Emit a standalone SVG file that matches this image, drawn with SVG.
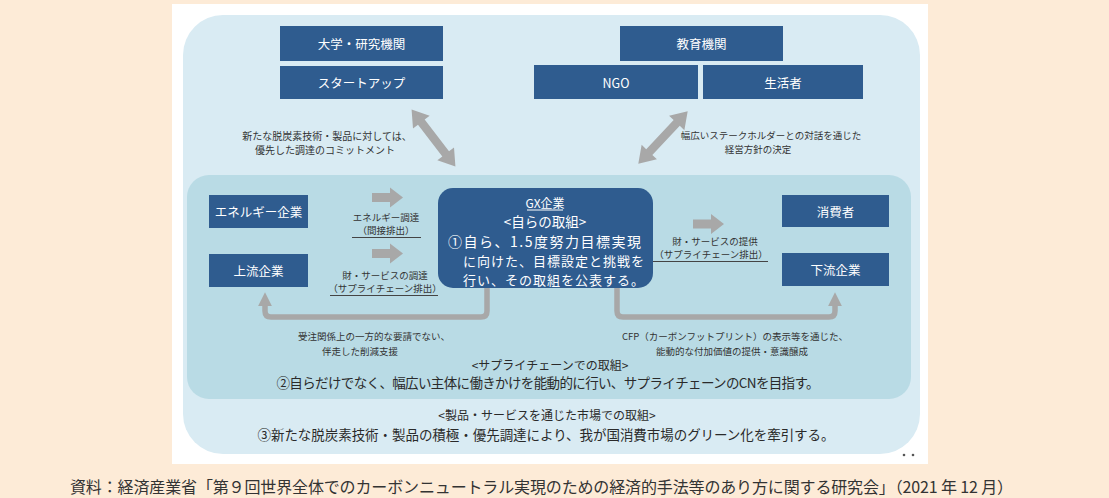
<svg xmlns="http://www.w3.org/2000/svg" width="1109" height="498" viewBox="0 0 1109 498">
<style>
text{font-family:"Noto Sans CJK JP","Noto Sans",sans-serif;dominant-baseline:central}
.box{fill:#2f5c8f}
.bt{fill:#fff;font-size:12.5px;text-anchor:middle}
.gl{fill:#fff;font-size:13px}
.lb{fill:#333;font-size:9.5px;text-anchor:middle}
.ul{stroke:#444;stroke-width:1}
.ga{fill:#a8a8a8}
.fb{fill:none;stroke:#a8a8a8;stroke-width:5.5;marker-end:url(#ah)}
.bx{fill:#2a2a2a;text-anchor:middle}
</style>
<defs>
<path id="blk" d="M0,-4.5H18V-10L31,0L18,10V4.5H0Z"/>
<path id="dbl" d="M-36,0L-20,-10.5V-4.2H20V-10.5L36,0L20,10.5V4.2H-20V10.5Z"/>
<marker id="ah" viewBox="0 0 10 10" refX="3" refY="5" markerWidth="14" markerHeight="14" markerUnits="userSpaceOnUse" orient="auto">
<path d="M0,0L10,5L0,10Z" fill="#a8a8a8"/>
</marker>
</defs>
<rect width="1109" height="498" fill="#fdebd7"/>
<rect x="172" y="4" width="756" height="460" fill="#fff"/>
<rect x="183" y="15" width="737" height="439" rx="40" fill="#d9ebf3"/>
<rect x="187" y="175" width="724" height="224" rx="22" fill="#b9dbe5"/>

<g id="connectors">
<use href="#dbl" class="ga" transform="translate(433.5,138) rotate(52.5)"/>
<use href="#dbl" class="ga" transform="translate(663,137.5) rotate(133.3)"/>
<use href="#blk" class="ga" x="372" y="197.5"/>
<use href="#blk" class="ga" x="372" y="253.5"/>
<use href="#blk" class="ga" x="693" y="224"/>
<path class="fb" d="M487,288V311Q487,317 481,317H271Q265,317 265,311V302"/>
<path class="fb" d="M617,288V311Q617,317 623,317H829Q835,317 835,311V302"/>
<line class="ul" x1="352" y1="237.5" x2="421" y2="237.5"/>
<line class="ul" x1="330" y1="295.5" x2="438" y2="295.5"/>
<line class="ul" x1="653" y1="261.5" x2="768" y2="261.5"/>
</g>

<g id="n-daigaku"><rect class="box" x="280" y="26" width="163" height="35"/><text class="bt" x="361.5" y="43.5">大学・研究機関</text></g>
<g id="n-startup"><rect class="box" x="280" y="66" width="163" height="33"/><text class="bt" x="361.5" y="82.5">スタートアップ</text></g>
<g id="n-kyoiku"><rect class="box" x="620" y="26" width="163" height="35"/><text class="bt" x="701.5" y="43.5">教育機関</text></g>
<g id="n-ngo"><rect class="box" x="534" y="65" width="164" height="34"/><text class="bt" x="616" y="82">NGO</text></g>
<g id="n-seikatsu"><rect class="box" x="703" y="65" width="160" height="34"/><text class="bt" x="783" y="82">生活者</text></g>
<g id="n-energy"><rect class="box" x="209" y="195" width="99" height="33"/><text class="bt" x="258.5" y="211.5">エネルギー企業</text></g>
<g id="n-joryu"><rect class="box" x="209" y="254" width="99" height="33"/><text class="bt" x="258.5" y="270.5">上流企業</text></g>
<g id="n-shohisha"><rect class="box" x="782" y="195" width="107" height="32"/><text class="bt" x="835.5" y="211">消費者</text></g>
<g id="n-karyu"><rect class="box" x="782" y="253" width="107" height="33"/><text class="bt" x="835.5" y="269.5">下流企業</text></g>
<g id="n-gx">
<rect class="box" x="438" y="188" width="215" height="100" rx="15"/>
<text class="bt" x="545" y="202" style="font-size:12px">GX企業</text>
<line x1="527" y1="210" x2="563" y2="210" stroke="#fff" stroke-width="1"/>
<text class="bt" x="545" y="221" style="font-size:13.5px">&lt;自らの取組&gt;</text>
<text class="gl" x="448" y="241" style="font-size:14px" textLength="193" lengthAdjust="spacing">①自ら、1.5度努力目標実現</text>
<text class="gl" x="463" y="260.5" textLength="181" lengthAdjust="spacing">に向けた、目標設定と挑戦を</text>
<text class="gl" x="463" y="279.5" textLength="181" lengthAdjust="spacing">行い、その取組を公表する。</text>
</g>

<g id="labels">
<text class="lb" x="327" y="135" style="font-size:10px">新たな脱炭素技術・製品に対しては、</text>
<text class="lb" x="325" y="149" style="font-size:10px">優先した調達のコミットメント</text>
<text class="lb" x="771" y="135">幅広いステークホルダーとの対話を通じた</text>
<text class="lb" x="758" y="149">経営方針の決定</text>
<text class="lb" x="386" y="217">エネルギー調達</text>
<text class="lb" x="386" y="230">（間接排出）</text>
<text class="lb" x="385" y="275">財・サービスの調達</text>
<text class="lb" x="385" y="288">（サプライチェーン排出）</text>
<text class="lb" x="715" y="241">財・サービスの提供</text>
<text class="lb" x="711" y="254">（サプライチェーン排出）</text>
<text class="lb" x="374" y="336">受注関係上の一方的な要請でない、</text>
<text class="lb" x="360" y="351">伴走した削減支援</text>
<text class="lb" x="735" y="336">CFP（カーボンフットプリント）の表示等を通じた、</text>
<text class="lb" x="732" y="351">能動的な付加価値の提供・意識醸成</text>
<text class="bx" x="550" y="364" font-size="12">&lt;サプライチェーンでの取組&gt;</text>
<text class="bx" x="548" y="382" font-size="13.5" textLength="543" lengthAdjust="spacing">②自らだけでなく、幅広い主体に働きかけを能動的に行い、サプライチェーンのCNを目指す。</text>
<text class="bx" x="547" y="414" font-size="12">&lt;製品・サービスを通じた市場での取組&gt;</text>
<text class="bx" x="546" y="434" font-size="13.5" textLength="577" lengthAdjust="spacing">③新たな脱炭素技術・製品の積極・優先調達により、我が国消費市場のグリーン化を牽引する。</text>
</g>
<circle cx="904" cy="455" r="1.3" fill="#555"/>
<circle cx="913" cy="455" r="1.3" fill="#555"/>
<text x="70" y="486" fill="#333" font-size="16" textLength="943" lengthAdjust="spacing">資料：経済産業省「第９回世界全体でのカーボンニュートラル実現のための経済的手法等のあり方に関する研究会」（2021 年 12 月）</text>
</svg>
